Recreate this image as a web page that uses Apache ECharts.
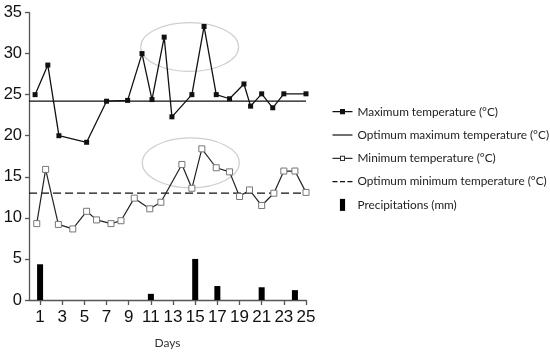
<!DOCTYPE html>
<html>
<head>
<meta charset="utf-8">
<script src="https://cdn.jsdelivr.net/npm/echarts@6/dist/echarts.min.js"></script>
<style>html,body{margin:0;padding:0;background:#fff}#c{width:550px;height:354px}</style>
</head>
<body>
<div id="c"></div>
<script>
// ---- data ----
var maxDays = [0.55, 1.7, 2.7, 5.2, 7.0, 8.9, 10.2, 11.1, 12.2, 12.9, 14.7, 15.8, 16.9, 18.1, 19.4, 20.0, 21.0, 22.0, 23.0, 25.0];
var maxTemp = [25.0, 28.6, 20.0, 19.2, 24.2, 24.3, 30.0, 24.4, 32.0, 22.3, 25.0, 33.3, 25.0, 24.5, 26.3, 23.6, 25.1, 23.4, 25.1, 25.1];
var minDays = [0.7, 1.5, 2.65, 3.95, 5.2, 6.1, 7.4, 8.3, 9.5, 10.9, 11.9, 13.8, 14.7, 15.6, 16.9, 18.1, 19.0, 19.9, 21.0, 22.1, 23.0, 24.0, 25.0];
var minTemp = [9.3, 15.9, 9.2, 8.65, 10.8, 9.75, 9.3, 9.65, 12.4, 11.1, 11.9, 16.5, 13.6, 18.4, 16.1, 15.6, 12.6, 13.4, 11.5, 13.0, 15.7, 15.7, 13.1];
var optMaxDays = [0, 25];
var optMaxTemp = [24.2, 24.2];
var optMinDays = [0, 25];
var optMinTemp = [13.0, 13.0];
var rainDays = [1, 11, 15, 17, 21, 24];
var rainfall = [4.35, 0.75, 5.0, 1.7, 1.55, 1.2];
var xTickLabels = [1, 3, 5, 7, 9, 11, 13, 15, 17, 19, 21, 23, 25];
// highlight ellipses: [center day, center value, half-width (days), half-height (°C)]
var ellipses = [[14.5, 30.8, 4.42, 2.97], [14.6, 16.7, 4.38, 3.04]];
var seriesNames = ['Maximum temperature (°C)', 'Optimum maximum temperature (°C)', 'Minimum temperature (°C)', 'Optimum minimum temperature (°C)', 'Precipitations (mm)'];

function pairs(xs, ys) { return xs.map(function (x, i) { return [x, ys[i]]; }); }

// legend glyphs
var iconFilledMarker = 'path://M0,5.4h7.5v-2h5v2h7.5v1.2h-7.5v2h-5v-2h-7.5z';
var iconHollowMarker = 'path://M0,5.4h7.5v-2h5v2h7.5v1.2h-7.5v2h-5v-2h-7.5z M8.5,4.4v3.2h3v-3.2z';
var iconSolid = 'path://M0,0h20v1.2h-20z';
var iconDashed = 'path://M0,0h5v1.2h-5z M7.5,0h5v1.2h-5z M15,0h5v1.2h-5z';
var iconBar = 'path://M0,0h6v14h-6z';

var chart = echarts.init(document.getElementById('c'), null, {renderer: 'canvas'});
var axisLineStyle = {color: '#555', width: 1.3};
chart.setOption({
  animation: false,
  backgroundColor: '#fff',
  grid: {left: 29, right: 244, top: 12.5, bottom: 53.5, containLabel: false},
  legend: {
    orient: 'vertical', left: 327.5, top: 99.7, itemWidth: 20, itemHeight: 12, itemGap: 9.3,
    textStyle: {fontFamily: 'Lato', fontSize: 11.8, lineHeight: 14, color: '#222'},
    data: [
      {name: seriesNames[0], icon: iconFilledMarker, itemStyle: {color: '#111'}},
      {name: seriesNames[1], icon: iconSolid, itemStyle: {color: '#111'}},
      {name: seriesNames[2], icon: iconHollowMarker, itemStyle: {color: '#333', borderWidth: 0}},
      {name: seriesNames[3], icon: iconDashed, itemStyle: {color: '#111'}},
      {name: seriesNames[4], icon: iconBar, itemStyle: {color: '#000'}}
    ]
  },
  xAxis: {
    type: 'value', min: 0, max: 25,
    name: 'Days', nameLocation: 'middle', nameGap: 37,
    nameTextStyle: {fontFamily: 'Lato', fontSize: 12, color: '#333'},
    axisLine: {show: true, lineStyle: axisLineStyle},
    axisTick: {show: true, length: 5, customValues: xTickLabels, lineStyle: axisLineStyle},
    axisLabel: {customValues: xTickLabels, margin: 9, fontFamily: 'Liberation Sans', fontSize: 17, color: '#111'},
    splitLine: {show: false}
  },
  yAxis: {
    type: 'value', min: 0, max: 35, interval: 5,
    axisLine: {show: true, lineStyle: axisLineStyle},
    axisTick: {show: true, length: 4, lineStyle: axisLineStyle},
    axisLabel: {margin: 7, fontFamily: 'Liberation Sans', fontSize: 16.5, color: '#111'},
    splitLine: {show: false}
  },
  series: [
    {
      name: seriesNames[0], type: 'line', data: pairs(maxDays, maxTemp),
      symbol: 'rect', symbolSize: 5, showAllSymbol: true,
      itemStyle: {color: '#111'}, lineStyle: {color: '#111', width: 1.3}, z: 5
    },
    {
      name: seriesNames[1], type: 'line', data: pairs(optMaxDays, optMaxTemp),
      symbol: 'none', itemStyle: {color: '#111'}, lineStyle: {color: '#111', width: 1.2}, z: 4
    },
    {
      name: seriesNames[2], type: 'line', data: pairs(minDays, minTemp),
      symbol: 'rect', symbolSize: 6, showAllSymbol: true,
      itemStyle: {color: '#fff', borderColor: '#777', borderWidth: 1},
      lineStyle: {color: '#222', width: 1.2}, z: 5
    },
    {
      name: seriesNames[3], type: 'line', data: pairs(optMinDays, optMinTemp),
      symbol: 'none', itemStyle: {color: '#111'},
      lineStyle: {color: '#111', width: 1.2, type: [8, 4]}, z: 4
    },
    {
      name: seriesNames[4], type: 'bar', data: pairs(rainDays, rainfall),
      barWidth: 6, itemStyle: {color: '#000'}, z: 3
    },
    {
      name: 'highlight', type: 'custom', data: ellipses, silent: true, z: 1,
      renderItem: function (params, api) {
        var c = api.coord([api.value(0), api.value(1)]);
        var s = api.size([api.value(2), api.value(3)]);
        return {
          type: 'ellipse',
          shape: {cx: c[0], cy: c[1], rx: s[0], ry: s[1]},
          style: {fill: 'none', stroke: '#cfcfcf', lineWidth: 1.2}
        };
      }
    }
  ]
});
</script>
</body>
</html>
